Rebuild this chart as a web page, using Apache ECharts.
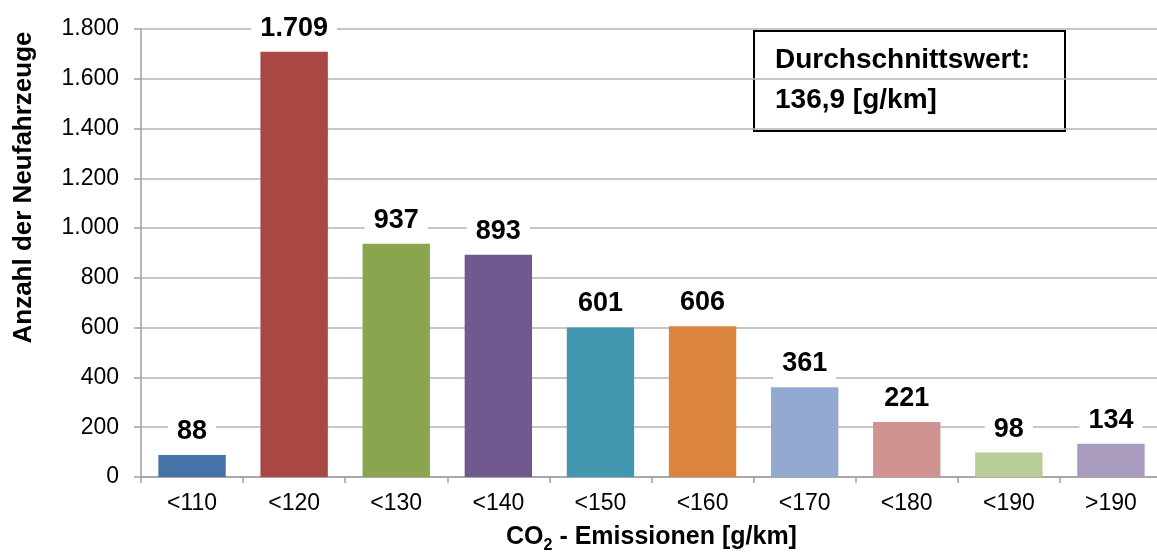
<!DOCTYPE html>
<html>
<head>
<meta charset="utf-8">
<script src="https://cdn.jsdelivr.net/npm/echarts@6/dist/echarts.min.js"></script>
<style>
  html, body { margin: 0; padding: 0; background: #fff; }
  #chart { width: 1157px; height: 552px; }
</style>
</head>
<body>
<div id="chart"></div>
<script>
// CO2 emission classes of newly registered vehicles
const categories = ['<110', '<120', '<130', '<140', '<150', '<160', '<170', '<180', '<190', '>190'];
const counts = [88, 1709, 937, 893, 601, 606, 361, 221, 98, 134];
const barColors = ['#4572A7', '#AA4643', '#89A54E', '#71588F', '#4198AF',
                   '#DB843D', '#93A9CF', '#D19392', '#B9CD96', '#A99BBD'];
const yTicks = { min: 0, max: 1800, interval: 200 };
const averageLines = ['Durchschnittswert:', '136,9 [g/km]'];

const FONT = '"Liberation Sans", Arial, sans-serif';

// German thousands separator: 1709 -> 1.709
function fmt(v) {
  return String(v).replace(/\B(?=(\d{3})+(?!\d))/g, '.');
}

const chart = echarts.init(document.getElementById('chart'), null, { renderer: 'canvas' });

chart.setOption({
  animation: false,
  backgroundColor: '#ffffff',
  textStyle: { fontFamily: FONT },
  grid: { left: 141, right: -5, top: 29, bottom: 75, containLabel: false, outerBoundsMode: 'none' },
  xAxis: {
    type: 'category',
    data: categories,
    name: '{a|CO}{s|2}{a| - Emissionen [g/km]}',
    nameLocation: 'middle',
    nameGap: 43,
    nameTextStyle: {
      rich: {
        a: { fontFamily: FONT, fontSize: 25, fontWeight: 'bold', color: '#000', lineHeight: 25, verticalAlign: 'middle' },
        s: { fontFamily: FONT, fontSize: 16, fontWeight: 'bold', color: '#000', lineHeight: 16, padding: [18, 0, 0, 0] }
      }
    },
    axisLine: { lineStyle: { color: '#a0a0a0', width: 1.5 } },
    axisTick: { show: true, length: 6, lineStyle: { color: '#a0a0a0', width: 1.5 } },
    axisLabel: { color: '#000', fontFamily: FONT, fontSize: 23, margin: 15 }
  },
  yAxis: {
    type: 'value',
    min: yTicks.min,
    max: yTicks.max,
    interval: yTicks.interval,
    name: 'Anzahl der Neufahrzeuge',
    nameLocation: 'middle',
    nameGap: 104,
    nameTextStyle: {
      fontFamily: FONT, fontSize: 26, fontWeight: 'bold', color: '#000',
      padding: [0, 0, 0, 131]
    },
    axisLine: { show: true, lineStyle: { color: '#a0a0a0', width: 1.5 } },
    axisTick: { show: true, length: 7, lineStyle: { color: '#a0a0a0', width: 1.5 } },
    axisLabel: { color: '#000', fontFamily: FONT, fontSize: 23, margin: 22, formatter: fmt },
    splitLine: { show: true, lineStyle: { color: '#b4b4b4', width: 1.5 } }
  },
  series: [{
    type: 'bar',
    data: counts.map((v, i) => ({ value: v, itemStyle: { color: barColors[i] } })),
    barWidth: '66%',
    label: {
      show: true,
      position: 'top',
      distance: 7,
      formatter: p => fmt(p.value),
      fontFamily: FONT,
      fontSize: 27,
      fontWeight: 'bold',
      color: '#000',
      backgroundColor: '#ffffff',
      padding: [6, 9, 3, 9]
    }
  }],
  graphic: [{
    type: 'group',
    left: 753,
    top: 30,
    children: [{
      type: 'rect',
      shape: { x: 0, y: 0, width: 311, height: 100 },
      style: { fill: '#ffffff', stroke: '#000000', lineWidth: 2 }
    }, {
      type: 'text',
      x: 21,
      y: 9,
      style: {
        text: averageLines.join('\n'),
        font: 'bold 28px ' + FONT,
        fill: '#000',
        lineHeight: 40
      }
    }]
  }]
});
</script>
</body>
</html>
